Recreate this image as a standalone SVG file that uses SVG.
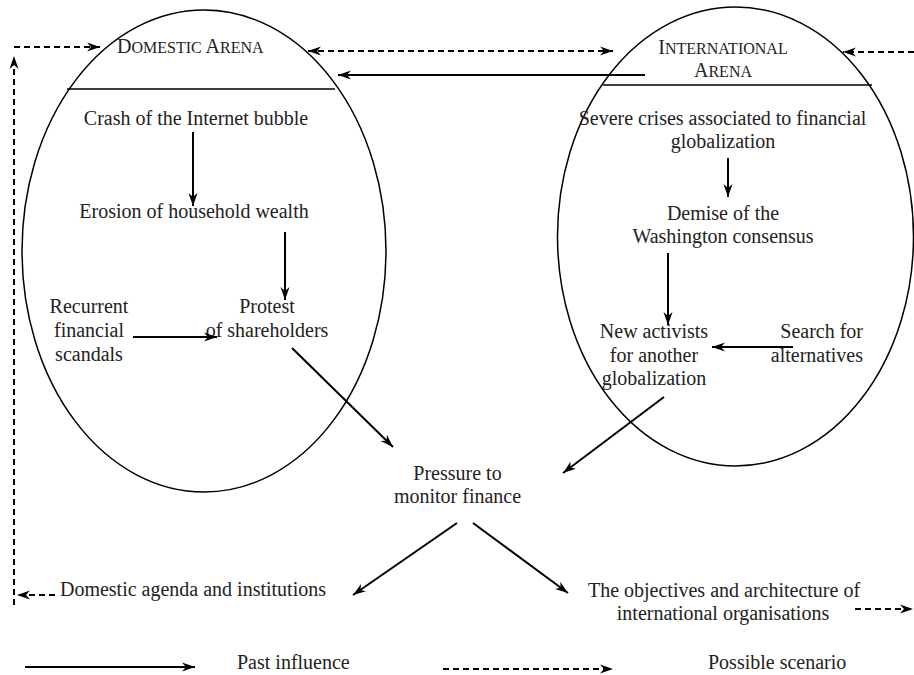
<svg xmlns="http://www.w3.org/2000/svg" width="914" height="675" viewBox="0 0 914 675">
  <style>
    .t { font-family: "Liberation Serif", "Times New Roman", serif; font-size: 20px; fill: #222; }
    .m { text-anchor: middle; }
    .e { text-anchor: end; }
    .sc { font-size: 16px; }
    .arena { fill: none; stroke: #000; stroke-width: 1.5; }
    .rule { stroke: #000; stroke-width: 1.3; }
    .solid { fill: none; stroke: #000; stroke-width: 2; marker-end: url(#head); }
    .dash { fill: none; stroke: #000; stroke-width: 2; stroke-dasharray: 6 4; marker-end: url(#head); }
  </style>
  <defs>
    <marker id="head" markerUnits="userSpaceOnUse" markerWidth="14" markerHeight="10" viewBox="0 0 14 10" refX="13" refY="5" orient="auto-start-reverse">
      <path d="M0,0.5 L13,5 L0,9.5 L4,5 z" fill="#000"/>
    </marker>
  </defs>
  <rect width="914" height="675" fill="#fff"/>

  <!-- domestic arena -->
  <g id="domestic-arena">
    <ellipse class="arena" cx="204" cy="251" rx="182" ry="241"/>
    <line class="rule" x1="67" y1="89" x2="335" y2="89"/>
    <text class="t" x="117" y="53">D<tspan class="sc">OMESTIC</tspan> A<tspan class="sc">RENA</tspan></text>
  </g>

  <!-- international arena -->
  <g id="international-arena">
    <ellipse class="arena" cx="735.5" cy="236.5" rx="178" ry="229.5"/>
    <line class="rule" x1="603" y1="85" x2="872" y2="85"/>
    <text class="t m" x="723" y="54">I<tspan class="sc">NTERNATIONAL</tspan></text>
    <text class="t m" x="723" y="77">A<tspan class="sc">RENA</tspan></text>
  </g>

  <g id="crash"><text class="t m" x="196" y="125">Crash of the Internet bubble</text></g>
  <g id="erosion"><text class="t m" x="194" y="218">Erosion of household wealth</text></g>
  <g id="protest">
    <text class="t m" x="267" y="313">Protest</text>
    <text class="t m" x="267" y="337">of shareholders</text>
  </g>
  <g id="scandals">
    <text class="t m" x="89" y="313">Recurrent</text>
    <text class="t m" x="89" y="337">financial</text>
    <text class="t m" x="89" y="361">scandals</text>
  </g>

  <g id="crises">
    <text class="t m" x="722.5" y="125">Severe crises associated to financial</text>
    <text class="t m" x="723" y="148">globalization</text>
  </g>
  <g id="demise">
    <text class="t m" x="723" y="220">Demise of the</text>
    <text class="t m" x="723" y="243">Washington consensus</text>
  </g>
  <g id="activists">
    <text class="t m" x="654" y="338">New activists</text>
    <text class="t m" x="654" y="362">for another</text>
    <text class="t m" x="654" y="385">globalization</text>
  </g>
  <g id="alternatives">
    <text class="t e" x="863" y="338">Search for</text>
    <text class="t e" x="863" y="362">alternatives</text>
  </g>

  <g id="pressure">
    <text class="t m" x="457.5" y="480">Pressure to</text>
    <text class="t m" x="457.5" y="503">monitor finance</text>
  </g>
  <g id="domestic-agenda"><text class="t m" x="193" y="596">Domestic agenda and institutions</text></g>
  <g id="international-organisations">
    <text class="t m" x="724" y="597">The objectives and architecture of</text>
    <text class="t m" x="723" y="620">international organisations</text>
  </g>

  <g id="legend">
    <line class="solid" x1="25" y1="667" x2="195" y2="667"/>
    <text class="t" x="237" y="669">Past influence</text>
    <line class="dash" x1="443" y1="669" x2="613" y2="669"/>
    <text class="t" x="708" y="669">Possible scenario</text>
  </g>

  <g id="connectors">
    <!-- past influence -->
    <line class="solid" x1="193" y1="132" x2="193" y2="206"/>
    <line class="solid" x1="285" y1="232" x2="285" y2="300"/>
    <line class="solid" x1="133" y1="337" x2="217" y2="337"/>
    <line class="solid" x1="292" y1="348" x2="393" y2="447"/>
    <line class="solid" x1="728" y1="158" x2="728" y2="197"/>
    <line class="solid" x1="668" y1="253" x2="668" y2="325"/>
    <line class="solid" x1="793" y1="347" x2="712" y2="347"/>
    <line class="solid" x1="664" y1="397" x2="563" y2="473"/>
    <line class="solid" x1="457" y1="523" x2="353" y2="595"/>
    <line class="solid" x1="473" y1="523" x2="568" y2="593"/>
    <line class="solid" x1="645" y1="75" x2="338" y2="75"/>
    <!-- possible scenario -->
    <line class="dash" x1="308" y1="51" x2="613" y2="51" marker-start="url(#head)"/>
    <line class="dash" x1="914" y1="52" x2="843" y2="52"/>
    <line class="dash" x1="855" y1="609" x2="913" y2="609"/>
    <line class="dash" x1="55" y1="595" x2="17" y2="595"/>
    <line class="dash" x1="14" y1="605" x2="14" y2="56"/>
    <line class="dash" x1="14" y1="47" x2="100" y2="47"/>
  </g>
</svg>
